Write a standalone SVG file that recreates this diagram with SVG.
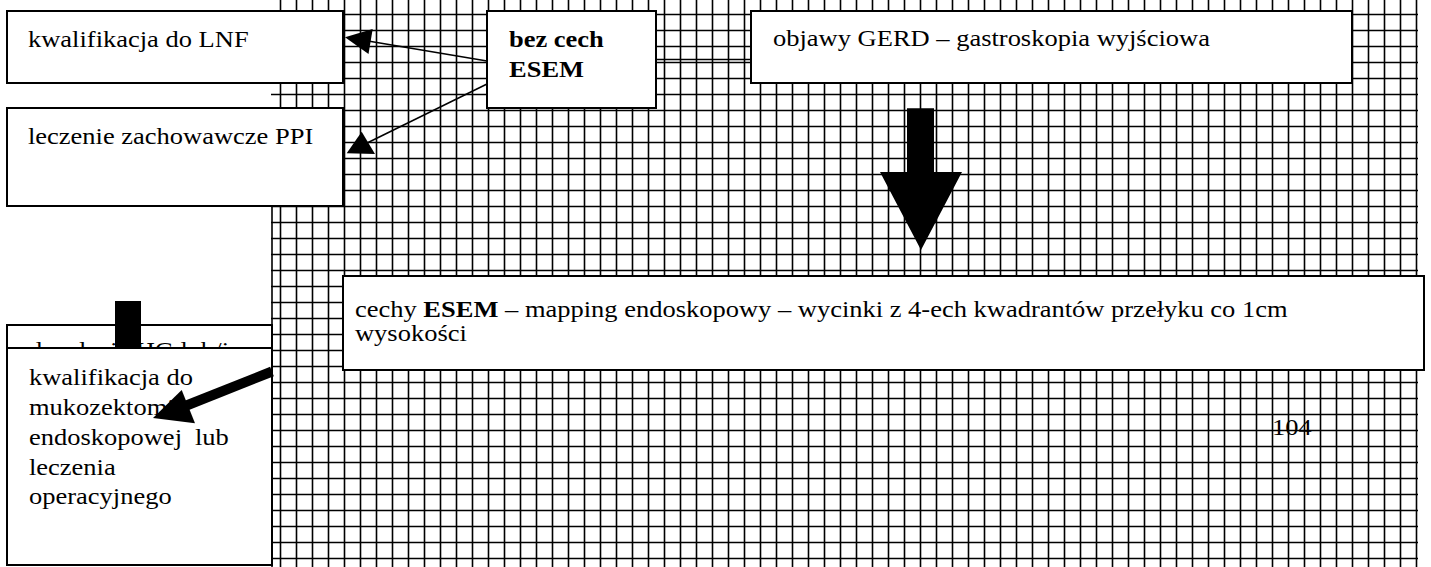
<svg xmlns="http://www.w3.org/2000/svg" width="1431" height="567" viewBox="0 0 1431 567">
<defs>
<style>
.box{fill:#fff;stroke:#000;stroke-width:2}
.t{font-family:"Liberation Serif","Times New Roman",serif;font-size:23px;fill:#000}
.b{font-weight:bold}
.thin{stroke:#000;stroke-width:1.5;fill:none}
.gl{stroke:#000;stroke-width:1.6;fill:none}
</style>
</defs>
<rect width="1431" height="567" fill="#fff"/>
<g id="grid-bg">
<path class="gl" d="M280.5 0V567M296.5 0V567M312.5 0V567M328.5 0V567M344.5 0V567M360.5 0V567M376.5 0V567M392.5 0V567M408.5 0V567M424.5 0V567M440.5 0V567M456.5 0V567M472.5 0V567M488.5 0V567M504.5 0V567M520.5 0V567M536.5 0V567M552.5 0V567M568.5 0V567M584.5 0V567M600.5 0V567M616.5 0V567M632.5 0V567M648.5 0V567M664.5 0V567M680.5 0V567M696.5 0V567M712.5 0V567M728.5 0V567M744.5 0V567M760.5 0V567M776.5 0V567M792.5 0V567M808.5 0V567M824.5 0V567M840.5 0V567M856.5 0V567M872.5 0V567M888.5 0V567M904.5 0V567M920.5 0V567M936.5 0V567M952.5 0V567M968.5 0V567M984.5 0V567M1000.5 0V567M1016.5 0V567M1032.5 0V567M1048.5 0V567M1064.5 0V567M1080.5 0V567M1096.5 0V567M1112.5 0V567M1128.5 0V567M1144.5 0V567M1160.5 0V567M1176.5 0V567M1192.5 0V567M1208.5 0V567M1224.5 0V567M1240.5 0V567M1256.5 0V567M1272.5 0V567M1288.5 0V567M1304.5 0V567M1320.5 0V567M1336.5 0V567M1352.5 0V567M1368.5 0V567M1384.5 0V567M1400.5 0V567M1416.5 0V567"/>
<path class="gl" d="M271 14.5H1418M271 30.5H1418M271 46.5H1418M271 62.5H1418M271 78.5H1418M271 94.5H1418M271 110.5H1418M271 126.5H1418M271 142.5H1418M271 158.5H1418M271 174.5H1418M271 190.5H1418M271 206.5H1418M271 222.5H1418M271 238.5H1418M271 254.5H1418M271 270.5H1418M271 286.5H1418M271 302.5H1418M271 318.5H1418M271 334.5H1418M271 350.5H1418M271 366.5H1418M271 382.5H1418M271 398.5H1418M271 414.5H1418M271 430.5H1418M271 446.5H1418M271 462.5H1418M271 478.5H1418M271 494.5H1418M271 510.5H1418M271 526.5H1418M271 542.5H1418M271 558.5H1418"/>
<path class="gl" d="M272 206V567"/>
</g>
<g id="node-lnf">
<rect class="box" x="7" y="11" width="336" height="72"/>
<text class="t" transform="translate(28,47) scale(1.152,1)">kwalifikacja do LNF</text>
</g>
<g id="node-ppi">
<rect class="box" x="7" y="108" width="336" height="98"/>
<text class="t" transform="translate(28,144) scale(1.152,1)">leczenie zachowawcze PPI</text>
</g>
<g id="node-bez">
<rect class="box" x="487" y="11" width="169" height="97"/>
<text class="t b" transform="translate(509,46.5) scale(1.152,1)">bez cech</text>
<text class="t b" transform="translate(509,77.3) scale(1.152,1)">ESEM</text>
</g>
<g id="node-gerd">
<rect class="box" x="751" y="11" width="601" height="72"/>
<text class="t" transform="translate(773,46) scale(1.152,1)">objawy GERD – gastroskopia wyjściowa</text>
</g>
<g id="node-esem">
<rect class="box" x="343" y="276" width="1081" height="94"/>
<text class="t" transform="translate(355,316.5) scale(1.152,1)">cechy <tspan class="b">ESEM</tspan> – mapping endoskopowy – wycinki z 4-ech kwadrantów przełyku co 1cm</text>
<text class="t" transform="translate(355,340.5) scale(1.152,1)">wysokości</text>
</g>
<g id="node-hg">
<rect class="box" x="7" y="325" width="265" height="240"/>
<text class="t" transform="translate(29,358) scale(1.152,1)">dysplazja HG lub/i</text>
<rect x="115" y="301" width="26" height="47" fill="#000"/>
</g>
<g id="node-muko">
<rect class="box" x="7" y="348" width="265" height="217"/>
<text class="t" transform="translate(29,385) scale(1.152,1)">kwalifikacja do</text>
<text class="t" transform="translate(29,415) scale(1.152,1)">mukozektomii</text>
<text class="t" transform="translate(29,445) scale(1.152,1)">endoskopowej</text>
<text class="t" transform="translate(195,445) scale(1.152,1)">lub</text>
<text class="t" transform="translate(29,475) scale(1.152,1)">leczenia</text>
<text class="t" transform="translate(29,504) scale(1.152,1)">operacyjnego</text>
</g>
<g id="page-number">
<text class="t" fill="#222" transform="translate(1272,435) scale(1.152,1)">104</text>
</g>
<g id="connectors">
<line class="thin" x1="487" y1="61" x2="365" y2="40.6"/>
<polygon points="345,37.3 372.7,29 368.5,54" fill="#000"/>
<line class="thin" x1="487" y1="84" x2="362" y2="145.5"/>
<polygon points="346.7,153.3 361.7,131.7 375,154" fill="#000"/>
<line class="thin" x1="656" y1="59.5" x2="751" y2="59.5"/>
<polygon points="907,108.3 934,108.3 934,172 962,172 921,250 880,172 907,172" fill="#000"/>
<line x1="272" y1="371.5" x2="184" y2="406.5" stroke="#000" stroke-width="10"/>
<polygon points="153,418 181.7,390 195,423.3" fill="#000"/>
</g>
</svg>
